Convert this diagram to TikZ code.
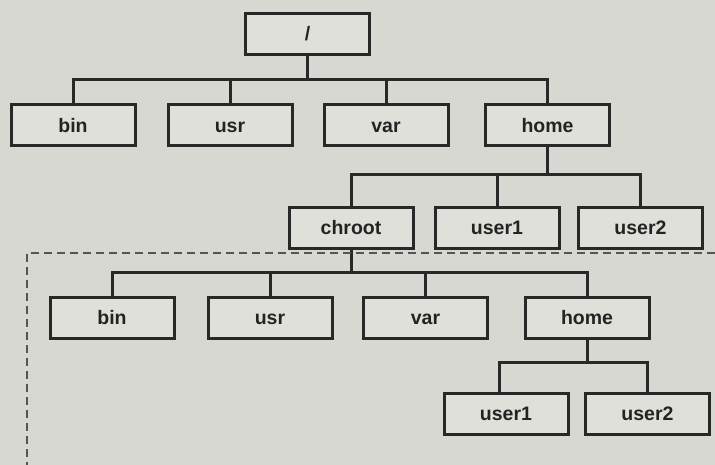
\documentclass[tikz,border=0pt]{standalone}
\usepackage{fontspec}
\setmainfont{Liberation Sans}
\begin{document}
\begin{tikzpicture}[x=1pt,y=1pt,
  dirbox/.style={draw=linecol, line width=3pt, fill=boxfill, minimum width=124pt, minimum height=41pt, inner sep=0pt, text height=14pt, text depth=0pt, font=\fontsize{19.5}{19.5}\selectfont\bfseries, text=textcol},
  conn/.style={draw=linecol, line width=3pt},
  chrootline/.style={draw=dashcol, line width=1.5pt, dash pattern=on 8pt off 5pt}]
\definecolor{bgcol}{RGB}{216,216,211}
\definecolor{boxfill}{RGB}{224,224,219}
\definecolor{linecol}{RGB}{40,40,40}
\definecolor{textcol}{RGB}{35,35,35}
\definecolor{dashcol}{RGB}{85,85,85}
\fill[bgcol] (0,0) rectangle (715,465);
\useasboundingbox (0,0) rectangle (715,465);
% levels
\node[dirbox] (root) at (307.5,431) {/};
\node[dirbox] (bin1) at (73,339.5) {bin};
\node[dirbox] (usr1) at (230,339.5) {usr};
\node[dirbox] (var1) at (386,339.5) {var};
\node[dirbox] (home1) at (547.5,339.5) {home};
\node[dirbox] (chroot) at (351,237) {chroot};
\node[dirbox] (user1a) at (497,237) {user1};
\node[dirbox] (user2a) at (640.5,237) {user2};
\node[dirbox] (bin2) at (112,147) {bin};
\node[dirbox] (usr2) at (270,147) {usr};
\node[dirbox] (var2) at (425.5,147) {var};
\node[dirbox] (home2) at (587,147) {home};
\node[dirbox] (user1b) at (506,51) {user1};
\node[dirbox] (user2b) at (647.5,51) {user2};
% bar levels
\coordinate (barA) at (0,385);
\coordinate (barB) at (0,290);
\coordinate (barC) at (0,192);
\coordinate (barD) at (0,102);
% connectors
\draw[conn] (root.south) -- (root.south |- barA);
\draw[conn] (bin1.north) -- (bin1.north |- barA) -- (home1.north |- barA) -- (home1.north);
\draw[conn] (usr1.north) -- (usr1.north |- barA);
\draw[conn] (var1.north) -- (var1.north |- barA);
\draw[conn] (home1.south) -- (home1.south |- barB);
\draw[conn] (chroot.north) -- (chroot.north |- barB) -- (user2a.north |- barB) -- (user2a.north);
\draw[conn] (user1a.north) -- (user1a.north |- barB);
\draw[conn] (chroot.south) -- (chroot.south |- barC);
\draw[conn] (bin2.north) -- (bin2.north |- barC) -- (home2.north |- barC) -- (home2.north);
\draw[conn] (usr2.north) -- (usr2.north |- barC);
\draw[conn] (var2.north) -- (var2.north |- barC);
\draw[conn] (home2.south) -- (home2.south |- barD);
\draw[conn] ([xshift=-7pt]user1b.north) -- ([xshift=-7pt]user1b.north |- barD) -- (user2b.north |- barD) -- (user2b.north);
% chroot boundary
\coordinate (dashR) at (715,212);
\coordinate (dashC) at (27,212);
\coordinate (dashB) at (27,0);
\draw[chrootline] (dashR) -- (dashC) -- (dashB);
\end{tikzpicture}
\end{document}
